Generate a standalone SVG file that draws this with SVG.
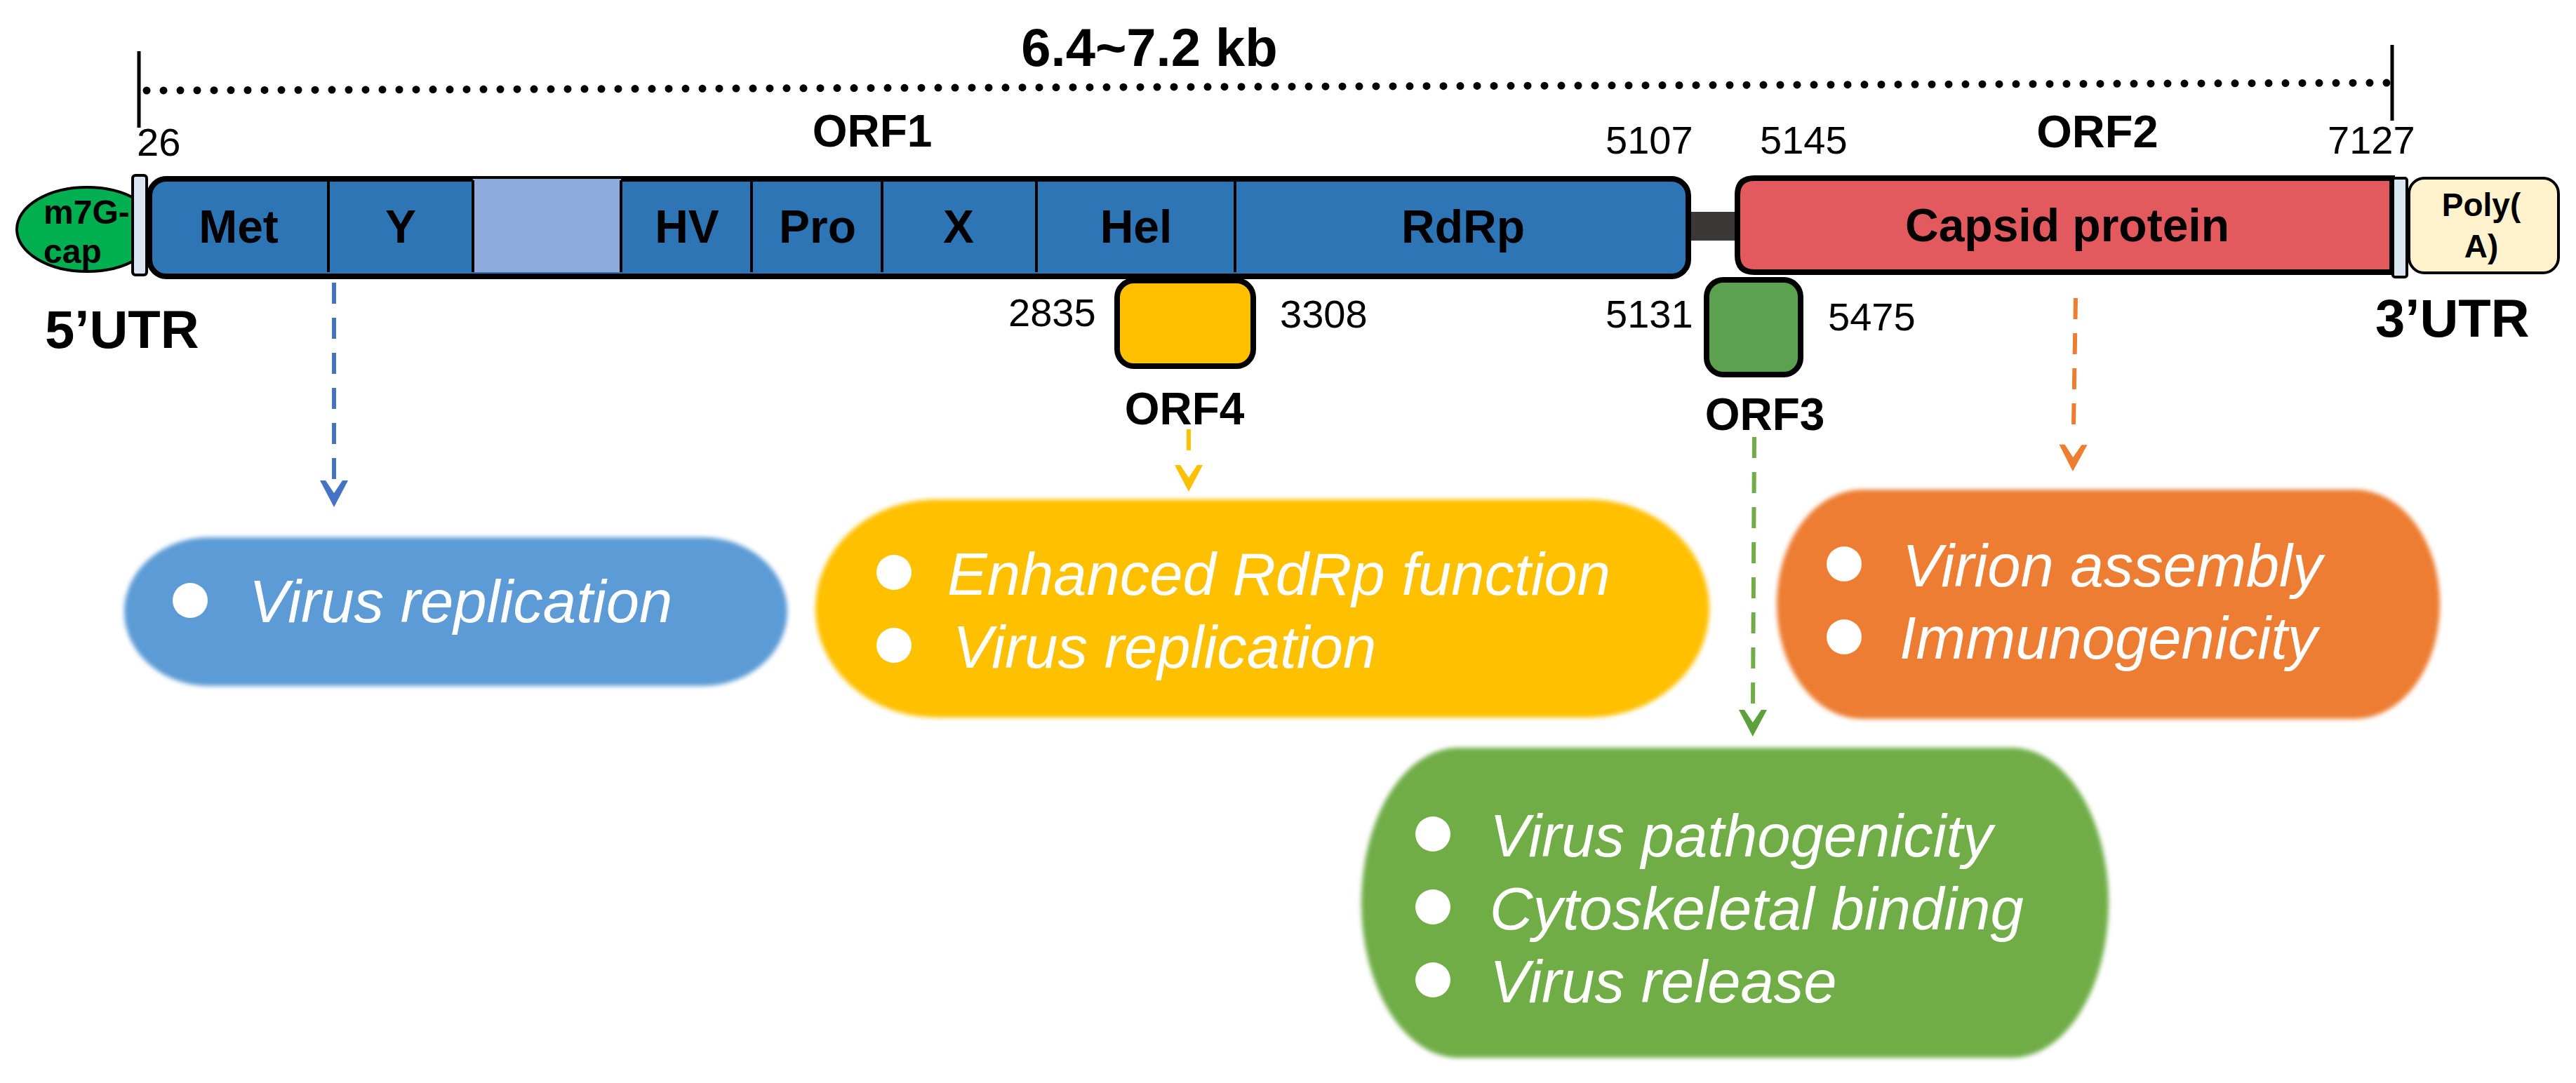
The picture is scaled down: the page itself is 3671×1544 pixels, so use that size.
<svg xmlns="http://www.w3.org/2000/svg" width="3671" height="1544" viewBox="0 0 3671 1544">
<style>
text{font-family:"Liberation Sans",Arial,sans-serif;fill:#000}
.b{font-weight:700}
.m{text-anchor:middle}
.f66{font-size:66px}
.n{font-size:56px}
.t{font-size:85px;font-style:italic;fill:#fff}
.bl{fill:#fff}
.box{stroke:#000;stroke-width:8}
.sep{stroke:#000;stroke-width:4}
.arrow{fill:none;stroke-width:6;stroke-dasharray:30 20}
</style>
<defs>
<filter id="soft" x="-5%" y="-5%" width="110%" height="110%"><feGaussianBlur stdDeviation="3"/></filter>
<marker id="hb" markerUnits="userSpaceOnUse" markerWidth="90" markerHeight="60" refX="-2" refY="0" viewBox="-40 -30 90 60" orient="auto"><path fill="#4472C4" d="M0 -20L38 0L0 20L0 12L18 0L0 -12Z"/></marker>
<marker id="hy" markerUnits="userSpaceOnUse" markerWidth="90" markerHeight="60" refX="-21" refY="0" viewBox="-40 -30 90 60" orient="auto"><path fill="#FFC000" d="M0 -20L38 0L0 20L0 12L18 0L0 -12Z"/></marker>
<marker id="hg" markerUnits="userSpaceOnUse" markerWidth="90" markerHeight="60" refX="-9" refY="0" viewBox="-40 -30 90 60" orient="auto"><path fill="#5FA03C" d="M0 -20L38 0L0 20L0 12L18 0L0 -12Z"/></marker>
<marker id="ho" markerUnits="userSpaceOnUse" markerWidth="90" markerHeight="60" refX="-29" refY="0" viewBox="-40 -30 90 60" orient="auto"><path fill="#ED7D31" d="M0 -20L38 0L0 20L0 12L18 0L0 -12Z"/></marker>
</defs>
<rect width="3671" height="1544" fill="#fff"/>

<g id="scale">
<line x1="198" y1="73" x2="198" y2="182" stroke="#000" stroke-width="5"/>
<line x1="3409" y1="64" x2="3409" y2="172" stroke="#000" stroke-width="5"/>
<line x1="209" y1="129" x2="3409" y2="118" stroke="#000" stroke-width="11" stroke-linecap="round" stroke-dasharray="0 24"/>
<text class="b m" x="1638" y="94" font-size="76">6.4~7.2 kb</text>
</g>

<g id="cap"><ellipse cx="124" cy="327" rx="100" ry="60" fill="#00B050" stroke="#000" stroke-width="4"/>
<text class="b" x="62" y="319" font-size="48">m7G-</text><text class="b" x="62" y="375" font-size="48">cap</text></g>
<g id="utr5"><rect x="189" y="250" width="20" height="142" rx="4" fill="#DAE6F2" stroke="#000" stroke-width="4"/>
<text class="b" x="64" y="496" font-size="76">5’UTR</text></g>

<g id="linker"><rect x="2406" y="302" width="70" height="41" fill="#3B3838"/></g>

<g id="orf1">
<rect class="box" x="213" y="255" width="2193" height="139" rx="24" fill="#2E75B6"/>
<rect x="674" y="255" width="211" height="133" fill="#8FAADC"/>
<g class="sep"><line x1="468" y1="257" x2="468" y2="388"/><line x1="674" y1="257" x2="674" y2="388"/><line x1="885" y1="257" x2="885" y2="388"/><line x1="1071" y1="257" x2="1071" y2="388"/><line x1="1257" y1="257" x2="1257" y2="388"/><line x1="1477" y1="257" x2="1477" y2="388"/><line x1="1760" y1="257" x2="1760" y2="388"/></g>
<g class="b m f66"><text x="340" y="346">Met</text><text x="571" y="346">Y</text><text x="979" y="346">HV</text><text x="1165" y="346">Pro</text><text x="1366" y="346">X</text><text x="1619" y="346">Hel</text><text x="2085" y="346">RdRp</text></g>
<text class="b m" x="1243" y="209" font-size="64">ORF1</text>
<text class="n" x="195" y="222">26</text>
<text class="n" x="2288" y="219">5107</text>
</g>

<g id="orf4">
<rect class="box" x="1592" y="400" width="194" height="122" rx="24" fill="#FFC000"/>
<text class="n" x="1437" y="465">2835</text><text class="n" x="1824" y="467">3308</text>
<text class="b m" x="1688" y="605" font-size="64">ORF4</text>
</g>

<g id="orf3">
<rect class="box" x="2432" y="399" width="134" height="135" rx="24" fill="#5BA150"/>
<text class="n" x="2288" y="467">5131</text><text class="n" x="2605" y="471">5475</text>
<text class="b m" x="2515" y="613" font-size="64">ORF3</text>
</g>

<g id="orf2">
<path class="box" d="M2500 254H3409V388H2500Q2476 388 2476 364V278Q2476 254 2500 254Z" fill="#E2595E"/>
<text class="b m f66" x="2946" y="344">Capsid protein</text>
<text class="b m" x="2989" y="210" font-size="65">ORF2</text>
<text class="n" x="2508" y="219">5145</text><text class="n" x="3317" y="219">7127</text>
</g>
<g id="utr3"><rect x="3410" y="254" width="20" height="141" rx="3" fill="#DAE6F2" stroke="#000" stroke-width="4"/>
<text class="b" x="3385" y="480" font-size="76">3’UTR</text></g>
<g id="polya"><rect x="3433" y="254" width="213" height="135" rx="22" fill="#FFF2CC" stroke="#000" stroke-width="4"/>
<text class="b m" x="3536" y="308" font-size="46">Poly(</text><text class="b m" x="3536" y="367" font-size="46">A)</text></g>

<g id="connectors">
<line class="arrow" x1="476" y1="403" x2="476" y2="683" stroke="#4472C4" marker-end="url(#hb)"/>
<line class="arrow" x1="1694" y1="612" x2="1694" y2="642" stroke="#FFC000" marker-end="url(#hy)"/>
<line class="arrow" x1="2500" y1="623" x2="2498" y2="1003" stroke="#70AD47" marker-end="url(#hg)"/>
<line class="arrow" x1="2958" y1="425" x2="2955" y2="605" stroke="#ED7D31" marker-end="url(#ho)"/>
</g>

<g id="pill-blue">
<rect x="177" y="766" width="945" height="212" rx="121" ry="106" fill="#5B9BD5" filter="url(#soft)"/>
<circle class="bl" cx="271" cy="856" r="25"/>
<text class="t" x="355" y="887">Virus replication</text>
</g>
<g id="pill-yellow">
<rect x="1162" y="712" width="1274" height="311" rx="172" ry="155" fill="#FFC000" filter="url(#soft)"/>
<circle class="bl" cx="1274" cy="816" r="25"/><circle class="bl" cx="1274" cy="920" r="25"/>
<text class="t" x="1350" y="848">Enhanced RdRp function</text>
<text class="t" x="1358" y="952">Virus replication</text>
</g>
<g id="pill-orange">
<rect x="2532" y="698" width="945" height="327" rx="121" ry="163" fill="#ED7D31" filter="url(#soft)"/>
<circle class="bl" cx="2628" cy="804" r="25"/><circle class="bl" cx="2628" cy="908" r="25"/>
<text class="t" x="2711" y="836">Virion assembly</text>
<text class="t" x="2707" y="939">Immunogenicity</text>
</g>
<g id="pill-green">
<rect x="1940" y="1066" width="1065" height="442" rx="138" ry="221" fill="#70AD47" filter="url(#soft)"/>
<circle class="bl" cx="2042" cy="1189" r="25"/><circle class="bl" cx="2042" cy="1293" r="25"/><circle class="bl" cx="2042" cy="1397" r="25"/>
<text class="t" x="2123" y="1221">Virus pathogenicity</text>
<text class="t" x="2123" y="1325">Cytoskeletal binding</text>
<text class="t" x="2123" y="1429">Virus release</text>
</g>
</svg>
